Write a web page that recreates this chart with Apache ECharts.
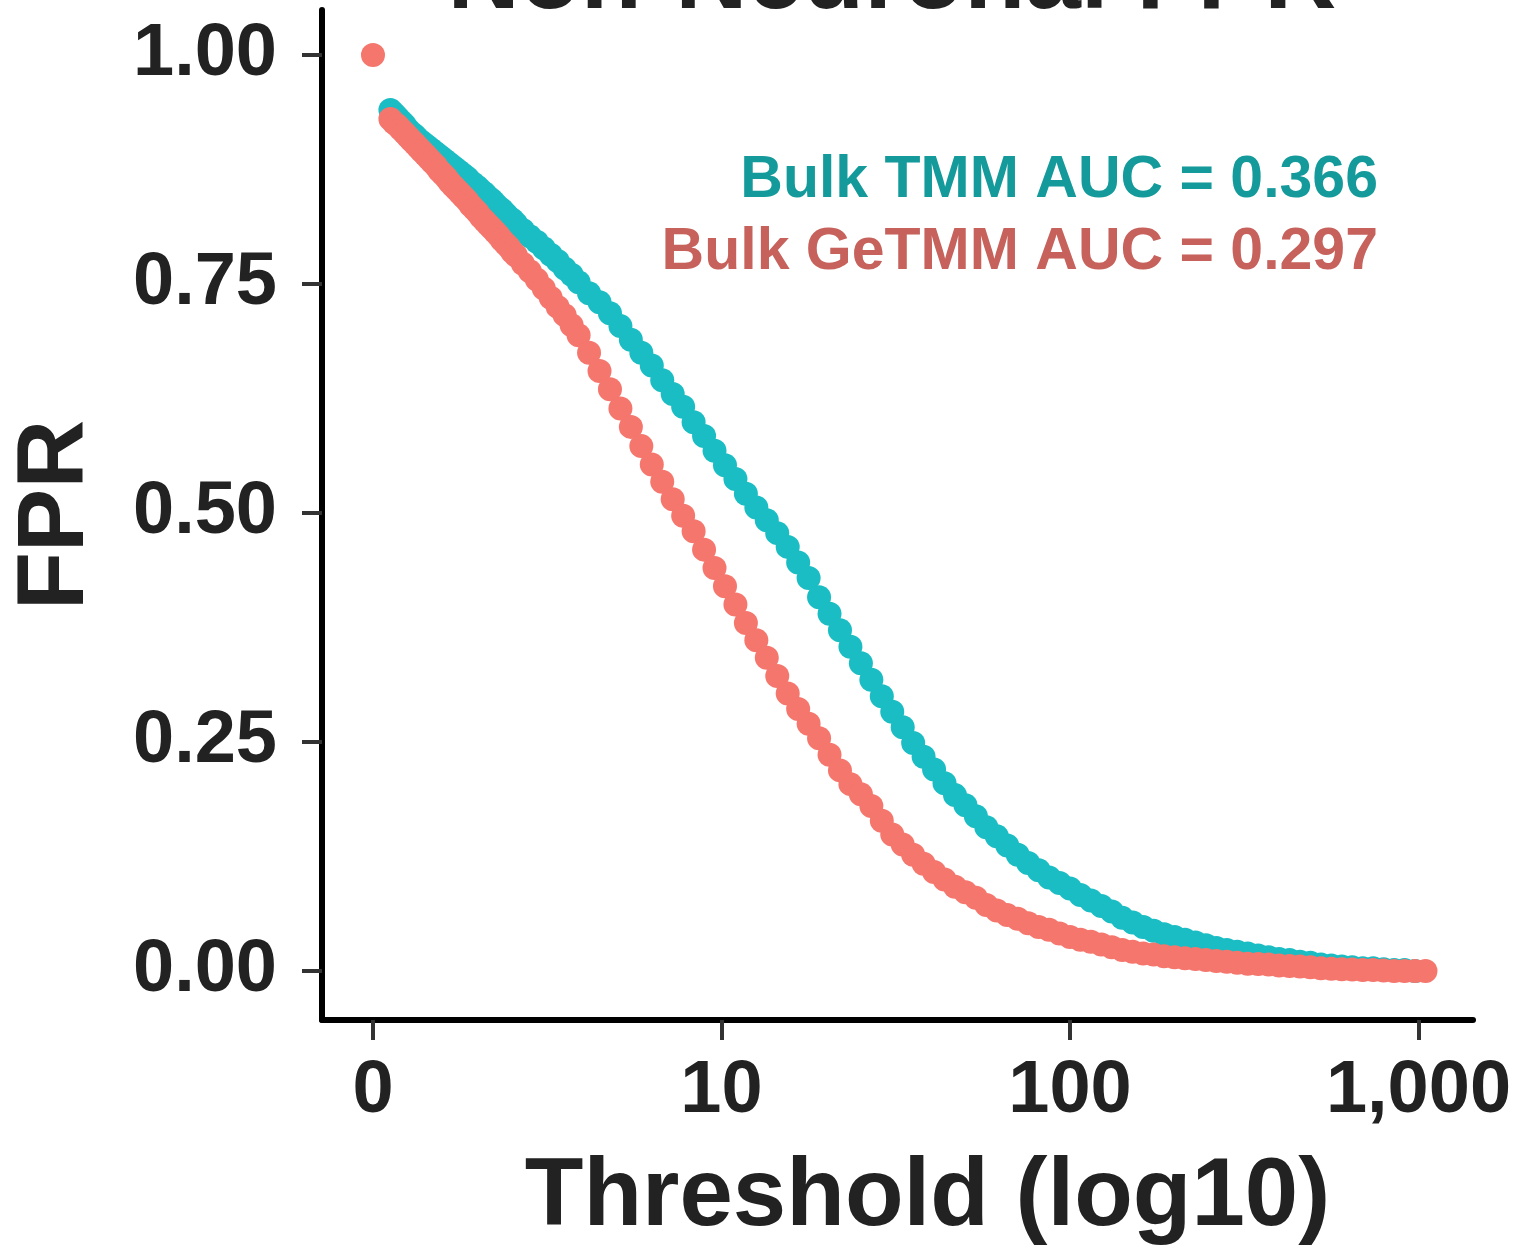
<!DOCTYPE html>
<html>
<head>
<meta charset="utf-8">
<title>Non-Neuronal FPR</title>
<script src="https://cdn.jsdelivr.net/npm/echarts@6/dist/echarts.min.js"></script>
<style>
  html, body { margin: 0; padding: 0; background: #ffffff; }
  #chart { width: 1518px; height: 1246px; }
</style>
</head>
<body>
<div id="chart"></div>
<script>
// Thresholds on a log10 scale (0 -> 1, 1 -> 10, 2 -> 100, 3 -> 1,000)
const thresholdLog = [
  0.05, 0.06, 0.07, 0.08, 0.09, 0.10, 0.11, 0.12, 0.13, 0.14,
  0.15, 0.16, 0.17, 0.18, 0.19, 0.20, 0.21, 0.22, 0.23, 0.24,
  0.25, 0.26, 0.27, 0.28, 0.29, 0.30, 0.31, 0.32, 0.33, 0.34,
  0.35, 0.36, 0.37, 0.38, 0.39, 0.40, 0.41,
  0.43, 0.45, 0.47, 0.49, 0.51, 0.53, 0.55, 0.57, 0.59,
  0.62, 0.65, 0.68, 0.71, 0.74, 0.77, 0.80, 0.83, 0.86, 0.89,
  0.92, 0.95, 0.98, 1.01, 1.04, 1.07, 1.10, 1.13, 1.16, 1.19,
  1.22, 1.25, 1.28, 1.31, 1.34, 1.37, 1.40, 1.43, 1.46, 1.49,
  1.52, 1.55, 1.58, 1.61, 1.64, 1.67, 1.70, 1.73, 1.76, 1.79,
  1.82, 1.85, 1.88, 1.91, 1.94, 1.97, 2.00, 2.03, 2.06, 2.09,
  2.12, 2.15, 2.18, 2.21, 2.24, 2.27, 2.30, 2.33, 2.36, 2.39,
  2.42, 2.45, 2.48, 2.51, 2.54, 2.57, 2.60, 2.63, 2.66, 2.69,
  2.72, 2.75, 2.78, 2.81, 2.84, 2.87, 2.90, 2.93, 2.96, 2.99,
  3.02
];

// False positive rate, Bulk TMM (ends at threshold 2.99)
const tmmFpr = [
  0.940, 0.936, 0.932, 0.928, 0.924, 0.919, 0.915, 0.912, 0.908, 0.905,
  0.902, 0.899, 0.896, 0.893, 0.890, 0.887, 0.884, 0.881, 0.878, 0.875,
  0.872, 0.869, 0.866, 0.862, 0.859, 0.856, 0.852, 0.849, 0.845, 0.842,
  0.838, 0.834, 0.831, 0.827, 0.823, 0.820, 0.816,
  0.809, 0.802, 0.796, 0.789, 0.782, 0.775, 0.767, 0.760, 0.752,
  0.740, 0.730, 0.718, 0.704, 0.689, 0.675, 0.661, 0.645, 0.630, 0.616,
  0.599, 0.584, 0.568, 0.552, 0.537, 0.521, 0.506, 0.492, 0.478, 0.463,
  0.446, 0.429, 0.408, 0.390, 0.372, 0.354, 0.336, 0.318, 0.300, 0.283,
  0.266, 0.249, 0.234, 0.220, 0.205, 0.192, 0.181, 0.169, 0.157, 0.147,
  0.137, 0.127, 0.118, 0.110, 0.102, 0.096, 0.090, 0.083, 0.077, 0.071,
  0.065, 0.058, 0.053, 0.048, 0.044, 0.040, 0.037, 0.034, 0.031, 0.028,
  0.025, 0.023, 0.021, 0.019, 0.017, 0.015, 0.013, 0.012, 0.010, 0.009,
  0.007, 0.006, 0.005, 0.004, 0.003, 0.003, 0.002, 0.001, 0.001, 0.000
];

// False positive rate, Bulk GeTMM
const getmmFpr = [
  0.930, 0.926, 0.923, 0.919, 0.915, 0.911, 0.907, 0.903, 0.899, 0.895,
  0.891, 0.887, 0.883, 0.879, 0.874, 0.870, 0.866, 0.861, 0.857, 0.853,
  0.849, 0.845, 0.841, 0.836, 0.832, 0.828, 0.823, 0.819, 0.815, 0.811,
  0.807, 0.803, 0.798, 0.794, 0.790, 0.785, 0.781,
  0.772, 0.764, 0.755, 0.745, 0.735, 0.725, 0.716, 0.705, 0.694,
  0.675, 0.655, 0.635, 0.614, 0.594, 0.573, 0.553, 0.534, 0.515, 0.497,
  0.480, 0.460, 0.440, 0.420, 0.400, 0.380, 0.361, 0.342, 0.322, 0.303,
  0.286, 0.270, 0.254, 0.236, 0.219, 0.204, 0.193, 0.180, 0.164, 0.149,
  0.138, 0.127, 0.117, 0.108, 0.100, 0.092, 0.086, 0.080, 0.072, 0.066,
  0.061, 0.057, 0.052, 0.048, 0.045, 0.041, 0.037, 0.034, 0.032, 0.029,
  0.026, 0.023, 0.021, 0.019, 0.018, 0.016, 0.015, 0.014, 0.013, 0.012,
  0.011, 0.010, 0.009, 0.008, 0.0075, 0.007, 0.006, 0.0055, 0.005, 0.004,
  0.003, 0.0025, 0.002, 0.0015, 0.001, 0.001, 0.0005, 0, 0, 0,
  0
];

// GeTMM also has a point at the zero threshold
const getmmZeroThreshold = [0];
const getmmZeroFpr = [1.00];

// Axis ticks
const xTickValues = [0, 1, 2, 3];
const xTickLabels = ['0', '10', '100', '1,000'];
const yTickValues = [0, 0.25, 0.5, 0.75, 1];
const yTickLabels = ['0.00', '0.25', '0.50', '0.75', '1.00'];

// AUC annotations
const aucNames = ['Bulk TMM', 'Bulk GeTMM'];
const aucValues = [0.366, 0.297];

const seriesColors = ['#1ABDC3', '#F5766D'];
const textColors = ['#159A9B', '#C6615B'];

const tmmPoints = tmmFpr.map((y, i) => [thresholdLog[i], y]);
const getmmPoints = getmmZeroThreshold.map((x, i) => [x, getmmZeroFpr[i]])
  .concat(getmmFpr.map((y, i) => [thresholdLog[i], y]));

const FONT = '"Liberation Sans", Arial, Helvetica, sans-serif';
const chart = echarts.init(document.getElementById('chart'), null, { renderer: 'canvas' });

chart.setOption({
  backgroundColor: '#ffffff',
  animation: false,
  title: {
    text: 'Non-Neuronal FPR',
    left: 887,
    top: -75,
    textAlign: 'center',
    textStyle: { fontFamily: FONT, fontWeight: 'bold', fontSize: 100, color: '#222222' }
  },
  grid: {
    left: 322, right: 45, top: 10, bottom: 226,
    containLabel: false,
    outerBoundsMode: 'none'
  },
  xAxis: {
    type: 'value',
    min: -0.1463,
    max: 3.1564,
    name: 'Threshold (log10)',
    nameLocation: 'middle',
    nameGap: 131,
    nameTextStyle: {
      fontFamily: FONT, fontWeight: 'bold', fontSize: 96, color: '#222222',
      padding: [0, 0, 0, 60]
    },
    axisLine: { show: true, onZero: false, lineStyle: { color: '#000000', width: 6 } },
    axisTick: { show: true, length: 20, customValues: xTickValues, lineStyle: { color: '#333333', width: 4 } },
    axisLabel: {
      customValues: xTickValues,
      margin: 35,
      fontFamily: FONT, fontWeight: 'bold', fontSize: 74, color: '#222222',
      formatter: (v) => xTickLabels[xTickValues.indexOf(v)]
    },
    splitLine: { show: false }
  },
  yAxis: {
    type: 'value',
    min: -0.0535,
    max: 1.0491,
    name: 'FPR',
    nameLocation: 'middle',
    nameGap: 218,
    nameTextStyle: { fontFamily: FONT, fontWeight: 'bold', fontSize: 95, color: '#222222' },
    axisLine: { show: true, onZero: false, lineStyle: { color: '#000000', width: 6 } },
    axisTick: { show: true, length: 20, customValues: yTickValues, lineStyle: { color: '#333333', width: 4 } },
    axisLabel: {
      customValues: yTickValues,
      margin: 45,
      fontFamily: FONT, fontWeight: 'bold', fontSize: 74, color: '#222222',
      formatter: (v) => yTickLabels[yTickValues.indexOf(v)]
    },
    splitLine: { show: false }
  },
  graphic: aucNames.map((name, i) => ({
    type: 'text',
    right: 1518 - 1378,
    top: i === 0 ? 151 : 223,
    style: {
      text: name + ' AUC = ' + aucValues[i].toFixed(3),
      font: 'bold 59px ' + FONT,
      fill: textColors[i],
      textAlign: 'right'
    }
  })),
  series: [
    {
      name: aucNames[0],
      type: 'scatter',
      symbol: 'circle',
      symbolSize: 24,
      itemStyle: { color: seriesColors[0], opacity: 1 },
      data: tmmPoints,
      z: 2
    },
    {
      name: aucNames[1],
      type: 'scatter',
      symbol: 'circle',
      symbolSize: 24,
      itemStyle: { color: seriesColors[1], opacity: 1 },
      data: getmmPoints,
      z: 3
    }
  ]
});
</script>
</body>
</html>
